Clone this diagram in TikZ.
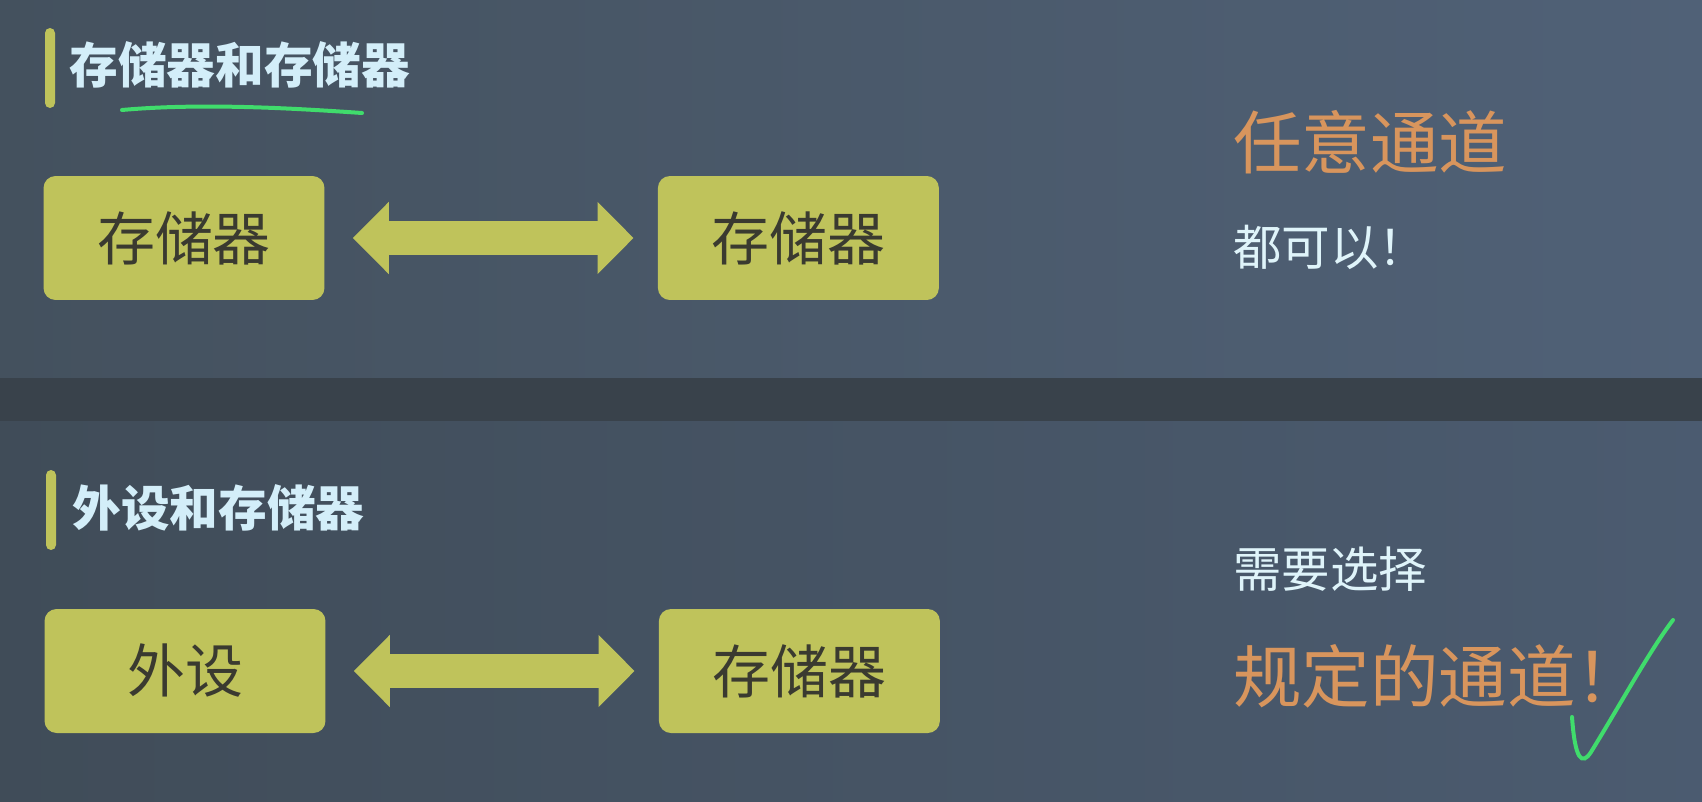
\documentclass[tikz,border=0pt]{standalone}
\usepackage{fontspec}
\setmainfont{Noto Sans CJK SC}
\usetikzlibrary{shapes,arrows.meta}
\definecolor{bgleft}{HTML}{44515E}
\definecolor{bgright}{HTML}{506177}
\definecolor{sepband}{HTML}{39424B}
\definecolor{olive}{HTML}{BFC35B}
\definecolor{boxtext}{HTML}{3A3A30}
\definecolor{titleblue}{HTML}{D3EEF9}
\definecolor{paleblue}{HTML}{DFF4FA}
\definecolor{orange}{HTML}{D8955D}
\definecolor{pen}{HTML}{40DC6C}
\tikzstyle{r} = [rectangle, rounded corners=0.24cm, minimum width=5.62cm, minimum height=2.48cm, text centered, fill=olive, text=boxtext, font=\fontsize{33pt}{33pt}\selectfont]
\tikzstyle{title} = [anchor=west, inner sep=0pt, text=titleblue, font=\bfseries\fontsize{27.7pt}{27.7pt}\selectfont]
\tikzstyle{note} = [anchor=west, inner sep=0pt, text=paleblue, font=\fontsize{27.6pt}{27.6pt}\selectfont]
\tikzstyle{big} = [anchor=west, inner sep=0pt, text=orange, font=\fontsize{39pt}{39pt}\selectfont]
\tikzstyle{dbl} = [draw=olive, line width=0.68cm, {Triangle[length=0.72cm,width=1.4cm]}-{Triangle[length=0.72cm,width=1.4cm]}, shorten <=0.56cm, shorten >=0.48cm]
\tikzstyle{hand} = [draw=pen, line width=0.08cm, line cap=round]

\begin{document}
\begin{tikzpicture}[x=0.02cm, y=-0.02cm, node distance=12.29cm]
		\useasboundingbox (0,0) rectangle (1702,801);
		% background
		\shade[left color=bgleft, right color=bgright] (0,0) rectangle (1702,378);
		\fill[sepband] (0,378) rectangle (1702,421);
		\shade[left color=bgleft!94!black, right color=bgright!94!black] (0,421) rectangle (1702,801);
		
		% upper half
		\fill[olive, rounded corners=0.1cm] (45,28) rectangle (55,108);
		\node[title](t1) at (69,65){存储器和存储器};
		\draw[hand] (122,110) .. controls (200,103) and (290,108) .. (362,113);
		\node[r](1) at (184,238){存储器};
		\node[r,right of=1](2){存储器};
		\draw[dbl] (1)--(2);
		\node[big](5) at (1233,142){任意通道};
		\node[note](6) at (1233,247){都可以！};
		
		% lower half
		\fill[olive, rounded corners=0.1cm] (46,470) rectangle (56,550);
		\node[title](t2) at (72,508){外设和存储器};
		\node[r](3) at (185,671){外设};
		\node[r,right of=3](4){存储器};
		\draw[dbl] (3)--(4);
		\node[note](7) at (1233,569){需要选择};
		\node[big](8) at (1233,676){规定的通道！};
		\draw[hand] (1572,717) .. controls (1575,760) and (1582,766) .. (1591,752) .. controls (1620,705) and (1650,650) .. (1673,620);
\end{tikzpicture}
\end{document}
